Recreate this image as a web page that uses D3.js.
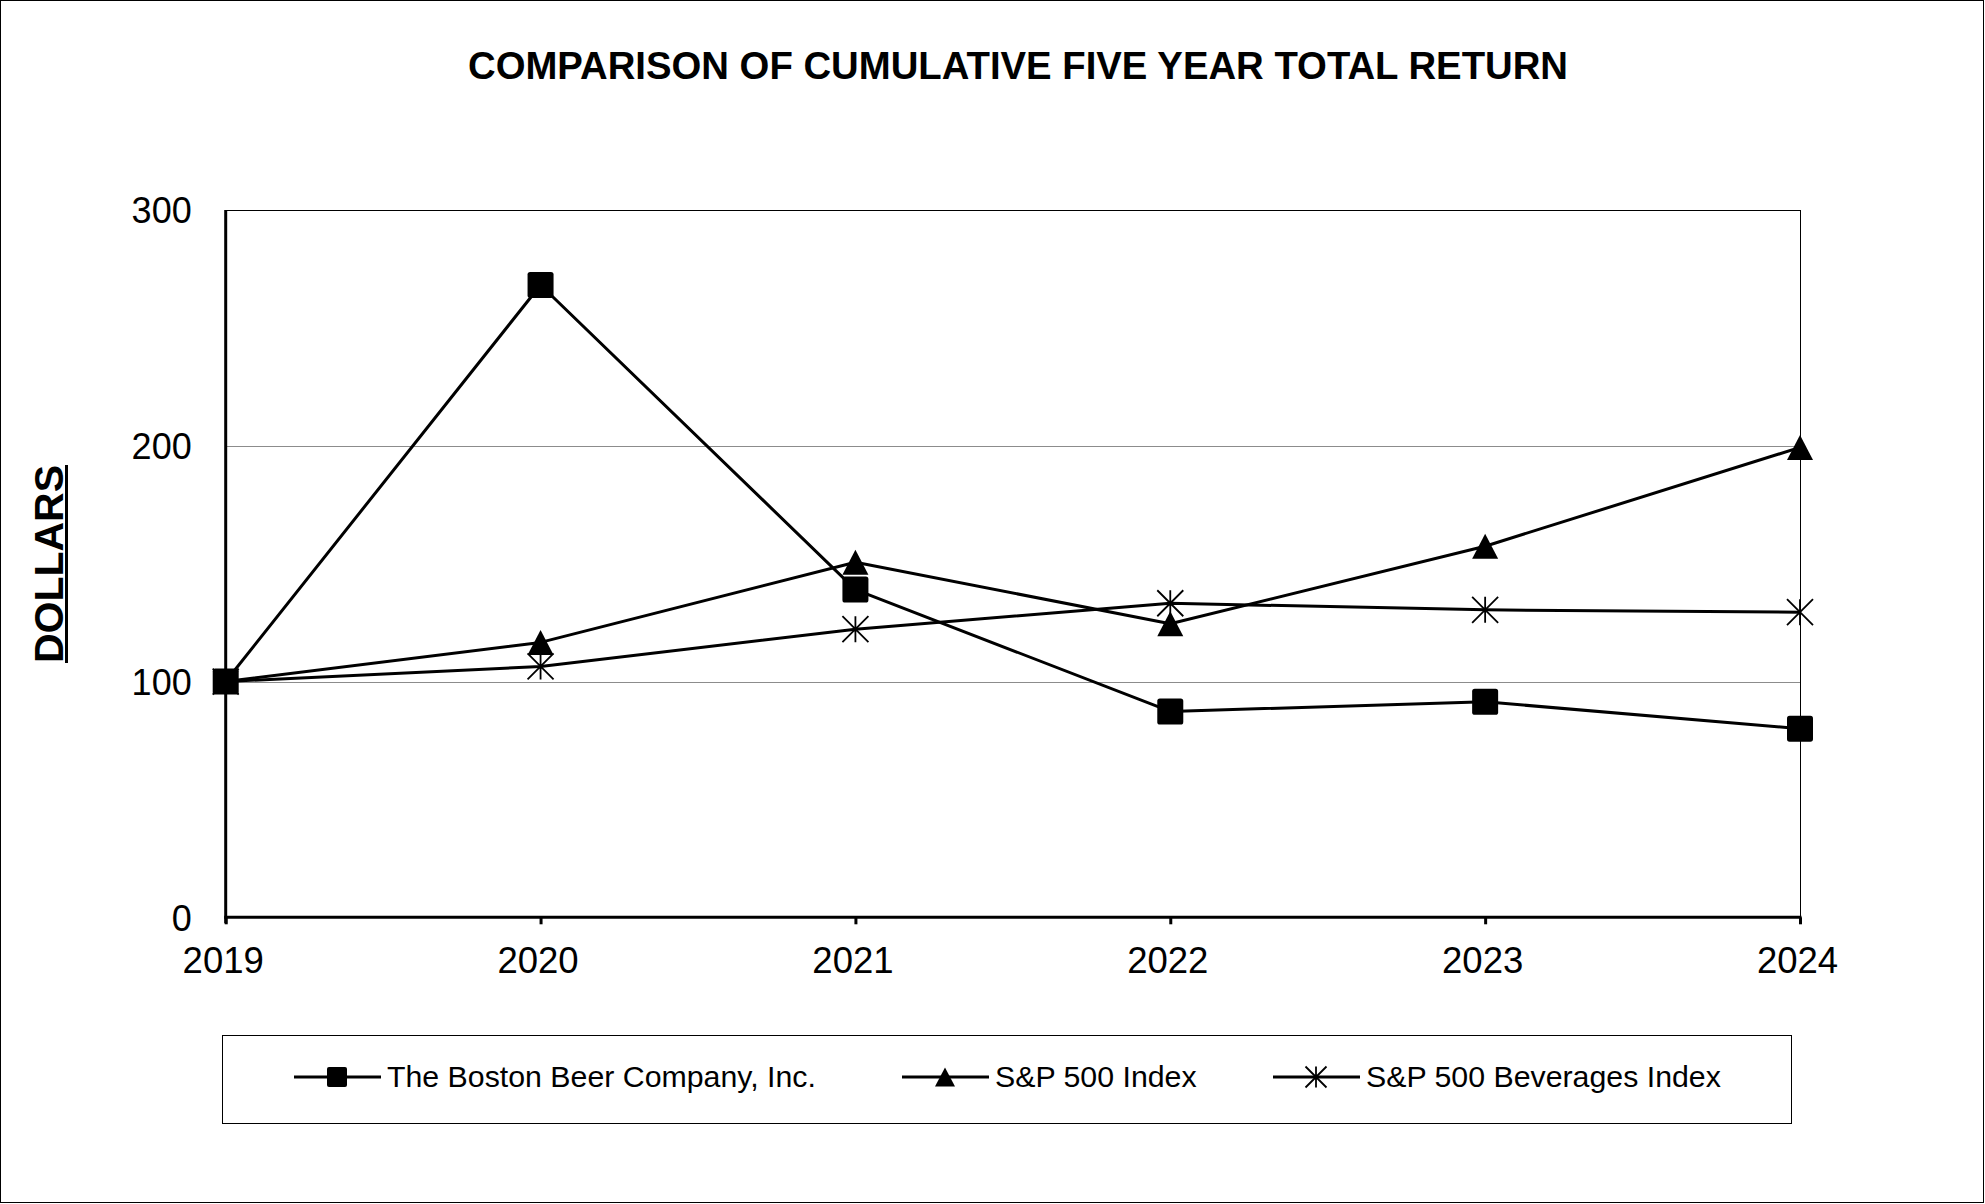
<!DOCTYPE html>
<html>
<head>
<meta charset="utf-8">
<script src="https://cdn.jsdelivr.net/npm/d3@7"></script>
<style>
  html, body { margin: 0; padding: 0; background: #fff; }
  svg { display: block; }
  text { font-family: "Liberation Sans", Arial, sans-serif; fill: #000; }
</style>
</head>
<body>
<svg id="chart" width="1985" height="1204"></svg>
<script>
// ---- Data ----
const years = ["2019", "2020", "2021", "2022", "2023", "2024"];
const bostonBeer = [100, 268.2, 139.0, 87.3, 91.4, 80.0];
const sp500 = [100, 116.6, 150.6, 124.5, 157.4, 199.3];
const sp500Beverages = [100, 106.4, 122.2, 133.2, 130.4, 129.4];
const yTicks = [0, 100, 200, 300];
const seriesNames = ["The Boston Beer Company, Inc.", "S&P 500 Index", "S&P 500 Beverages Index"];
const titleText = "COMPARISON OF CUMULATIVE FIVE YEAR TOTAL RETURN";
const yTitle = "DOLLARS";

const series = [
  { name: seriesNames[0], values: bostonBeer, marker: "square" },
  { name: seriesNames[1], values: sp500, marker: "triangle" },
  { name: seriesNames[2], values: sp500Beverages, marker: "star" }
];

// ---- Layout ----
const W = 1985, H = 1204;
const plot = { left: 225.7, right: 1800, top: 210, bottom: 917.3 };

const svg = d3.select("#chart");

// outer border
svg.append("rect").attr("x", 0.5).attr("y", 0.5).attr("width", W - 2).attr("height", H - 2)
  .attr("fill", "#fff").attr("stroke", "#000").attr("stroke-width", 1);

const x = d3.scalePoint().domain(years).range([plot.left, plot.right]);
const y = d3.scaleLinear().domain([0, 300]).range([plot.bottom, plot.top]);

// title
svg.append("text").attr("x", 1018).attr("y", 78.5).attr("text-anchor", "middle")
  .attr("font-size", 38.3).attr("font-weight", "bold").text(titleText);

// gridlines (100, 200) gray, 300 black (top frame)
const g = svg.append("g");
g.selectAll("line.grid").data(yTicks.filter(t => t > 0 && t < 300)).join("line")
  .attr("class", "grid")
  .attr("x1", plot.left).attr("x2", plot.right)
  .attr("y1", d => Math.round(y(d)) + 0.5).attr("y2", d => Math.round(y(d)) + 0.5)
  .attr("stroke", "#8c8c8c").attr("stroke-width", 1);

// top and right frame
g.append("line").attr("x1", plot.left).attr("x2", plot.right + 0.5)
  .attr("y1", y(300) + 0.5).attr("y2", y(300) + 0.5).attr("stroke", "#000").attr("stroke-width", 1);
g.append("line").attr("x1", plot.right + 0.5).attr("x2", plot.right + 0.5)
  .attr("y1", y(300)).attr("y2", plot.bottom).attr("stroke", "#000").attr("stroke-width", 1);

// x axis via d3.axisBottom
const xAxis = d3.axisBottom(x).tickSize(7).tickSizeOuter(0).tickPadding(18);
const xg = svg.append("g").attr("transform", `translate(0,${plot.bottom})`).call(xAxis);
xg.select(".domain").attr("d", `M${plot.left - 1.5},0H${plot.right + 1.5}`)
  .attr("stroke", "#000").attr("stroke-width", 3);
xg.selectAll(".tick line").attr("stroke", "#000").attr("stroke-width", 3);
xg.selectAll(".tick text")
  .attr("font-family", "Liberation Sans, Arial, sans-serif")
  .attr("font-size", 36.5).attr("fill", "#000")
  .attr("dx", -3).attr("dy", 0).attr("y", 55.4);

// y axis via d3.axisLeft
const yAxis = d3.axisLeft(y).tickValues(yTicks).tickSize(0).tickPadding(34);
const yg = svg.append("g").attr("transform", `translate(${plot.left},0)`).call(yAxis);
yg.select(".domain").attr("d", `M0,${plot.top}V${plot.bottom + 6}`)
  .attr("stroke", "#000").attr("stroke-width", 3);
yg.selectAll(".tick text")
  .attr("font-family", "Liberation Sans, Arial, sans-serif")
  .attr("font-size", 36).attr("fill", "#000")
  .attr("dy", "0.36em");

// y title
svg.append("text")
  .attr("transform", "translate(63,564) rotate(-90)")
  .attr("text-anchor", "middle").attr("font-size", 41).attr("font-weight", "bold")
  .text(yTitle);
svg.append("rect").attr("x", 65).attr("y", 465).attr("width", 3).attr("height", 198).attr("fill", "#000");

// markers
function drawMarker(sel, type, cx, cy, s) {
  if (type === "square") {
    sel.append("rect").attr("x", cx - s / 2).attr("y", cy - s / 2)
      .attr("width", s).attr("height", s).attr("rx", s * 0.1).attr("fill", "#000");
  } else if (type === "triangle") {
    const h = s * 0.96;
    sel.append("path")
      .attr("d", `M${cx},${cy - h / 2}L${cx + s / 2},${cy + h / 2}L${cx - s / 2},${cy + h / 2}Z`)
      .attr("fill", "#000");
  } else {
    const r = s / 2;
    sel.append("path")
      .attr("d", `M${cx - r},${cy - r}L${cx + r},${cy + r}M${cx - r},${cy + r}L${cx + r},${cy - r}M${cx},${cy - r}L${cx},${cy + r}`)
      .attr("stroke", "#000").attr("stroke-width", 1.8).attr("fill", "none");
  }
}

const line = d3.line().x((d, i) => x(years[i])).y(d => y(d));
const dataG = svg.append("g");
series.forEach(s => {
  dataG.append("path").datum(s.values).attr("d", line)
    .attr("fill", "none").attr("stroke", "#000").attr("stroke-width", 3)
    .attr("stroke-linejoin", "round");
});
series.forEach(s => {
  const mg = dataG.append("g");
  s.values.forEach((v, i) => drawMarker(mg, s.marker, x(years[i]), y(v), 26));
});

// legend
const lg = svg.append("g");
lg.append("rect").attr("x", 222.5).attr("y", 1035.5).attr("width", 1569).attr("height", 88)
  .attr("fill", "none").attr("stroke", "#000").attr("stroke-width", 1);
const legendX = [294, 902, 1273];
const legendY = 1077;
series.forEach((s, i) => {
  const x0 = legendX[i];
  lg.append("line").attr("x1", x0).attr("x2", x0 + 87).attr("y1", legendY).attr("y2", legendY)
    .attr("stroke", "#000").attr("stroke-width", 3);
  drawMarker(lg, s.marker, x0 + 43, legendY, s.marker === "star" ? 21 : 20);
  lg.append("text").attr("x", x0 + 93).attr("y", 1087).attr("font-size", 30.3).text(s.name);
});
</script>
</body>
</html>
